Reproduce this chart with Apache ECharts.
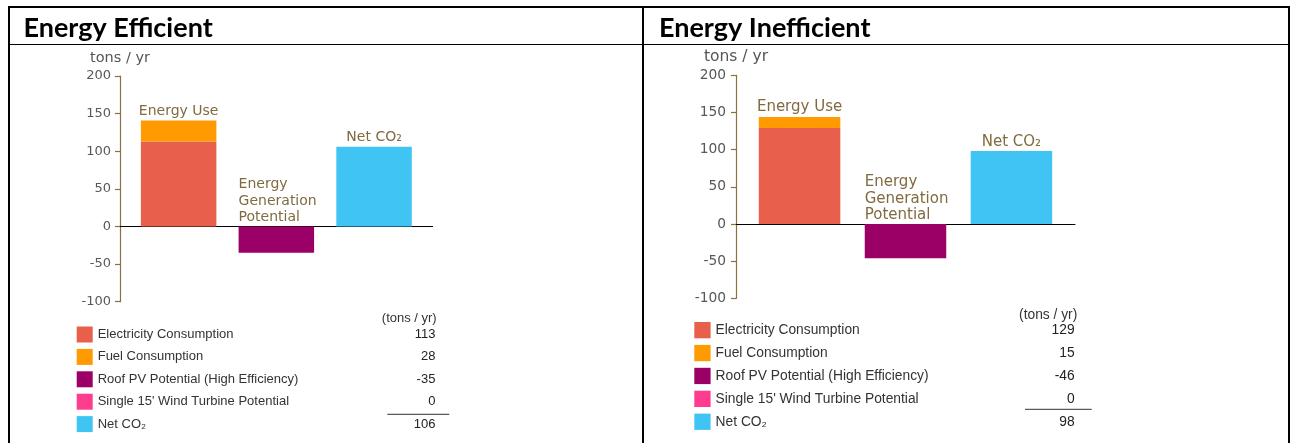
<!DOCTYPE html>
<html>
<head>
<meta charset="utf-8">
<title>CO₂ – Energy Efficient vs Energy Inefficient</title>
<script src="https://cdn.jsdelivr.net/npm/echarts@6/dist/echarts.min.js"></script>
<style>
  html, body { margin: 0; padding: 0; background: #fff; }
  #chart { width: 1292px; height: 443px; }
</style>
</head>
<body>
<div id="chart"></div>
<script>
// Panel titles and unit text
const panelTitles = ['Energy Efficient', 'Energy Inefficient'];
const unitLabel = 'tons / yr';
const tableUnitLabel = '(tons / yr)';

// Column captions drawn above the bars
const categoryLabels = ['Energy Use', 'Energy\nGeneration\nPotential', 'Net CO₂'];

// Series (one per legend row) and the column each one sits in
const seriesNames = [
  'Electricity Consumption',
  'Fuel Consumption',
  'Roof PV Potential (High Efficiency)',
  "Single 15' Wind Turbine Potential",
  'Net CO₂'
];
const seriesColumn = [0, 0, 1, 1, 2];
const seriesColors = ['#E85F4B', '#FF9A00', '#9A0066', '#FF3D8F', '#40C4F4'];

// Values in tons / yr
const efficientValues = [113, 28, -35, 0, 106];
const inefficientValues = [129, 15, -46, 0, 98];

// Value axis
const yMin = -100;
const yMax = 200;
const yStep = 50;

const panelValues = [efficientValues, inefficientValues];

// Per-panel geometry and type sizes
const panels = [
  { grid: { left: 120, top: 76, width: 312.7, height: 225.7 }, barWidth: 75.5,
    tick: 13, name: 14.5, cap: 14, capLine: 16.3, legendFont: 13, legendLeft: 76.7, legendTop: 326.5,
    rowGap: 6.4, swatch: 16, textSpan: 337.7, valueSpan: 50, lineH: 16,
    unitX: 436.7, unitY: 318.3, ruleX1: 387.3, ruleX2: 449.3, ruleY: 414.3,
    titleX: 23.5, labelMargin: 9, nameGap: 10 },
  { grid: { left: 736, top: 75.3, width: 339, height: 223 }, barWidth: 81.5,
    tick: 13.8, name: 15.5, cap: 15, capLine: 16.2, legendFont: 13.8, legendLeft: 694.3, legendTop: 322,
    rowGap: 6.6, swatch: 16.3, textSpan: 359, valueSpan: 50, lineH: 16.1,
    unitX: 1077.3, unitY: 315, ruleX1: 1025, ruleX2: 1091.7, ruleY: 409.3,
    titleX: 659, labelMargin: 10, nameGap: 10 }
];

const axisBrown = '#8C6F42';
const captionColor = '#806A40';
const captionFont = 'DejaVu Sans';
const tableFont = 'Liberation Sans';

const grids = [], xAxes = [], yAxes = [], series = [], legends = [], graphics = [];

panels.forEach(function (p, pi) {
  const values = panelValues[pi];
  grids.push(Object.assign({ containLabel: false }, p.grid));

  xAxes.push({
    gridIndex: pi, type: 'value', min: -0.6, max: 2.6,
    axisLine: { show: true, onZero: true, lineStyle: { color: '#000', width: 1 } },
    axisTick: { show: false }, axisLabel: { show: false }, splitLine: { show: false }
  });

  yAxes.push({
    gridIndex: pi, type: 'value', min: yMin, max: yMax, interval: yStep,
    name: unitLabel, nameLocation: 'end', nameGap: p.nameGap,
    nameTextStyle: { fontFamily: captionFont, fontSize: p.name, color: '#555' },
    axisLine: { show: true, onZero: false, lineStyle: { color: axisBrown, width: 1.2 } },
    axisTick: { show: true, length: 5, lineStyle: { color: axisBrown, width: 1.2 } },
    axisLabel: { fontFamily: captionFont, fontSize: p.tick, color: '#585858', margin: p.labelMargin },
    splitLine: { show: false }
  });

  seriesNames.forEach(function (name, si) {
    const col = seriesColumn[si];
    // Each row is [value, column]; the value comes first so the stack sums the bar heights
    const data = [0, 1, 2].map(function (x) { return [x === col ? values[si] : null, x]; });
    const s = {
      type: 'bar', name: name, xAxisIndex: pi, yAxisIndex: pi,
      stack: 'panel' + pi, barWidth: p.barWidth, data: data,
      encode: { x: 1, y: 0 },
      itemStyle: { color: seriesColors[si] },
      emphasis: { disabled: true }
    };
    const captionStyle = { show: true, fontFamily: captionFont, fontSize: p.cap, color: captionColor };
    if (si === 1) {
      s.label = Object.assign({}, captionStyle, { position: 'top', distance: 2,
        formatter: function (d) { return d.value[0] == null ? '' : categoryLabels[0]; } });
    } else if (si === 2) {
      s.label = Object.assign({}, captionStyle, { position: [0, -1], align: 'left', verticalAlign: 'bottom',
        lineHeight: p.capLine, formatter: function (d) { return d.value[0] == null ? '' : categoryLabels[1]; } });
    } else if (si === 4) {
      s.label = Object.assign({}, captionStyle, { position: 'top', distance: 2,
        formatter: function (d) { return d.value[0] == null ? '' : categoryLabels[2]; } });
    }
    series.push(s);
  });

  // Legend table: swatch, name and value per row
  legends.push({
    orient: 'vertical', left: p.legendLeft, top: p.legendTop, padding: 0,
    itemWidth: p.swatch, itemHeight: p.swatch, itemGap: p.rowGap, icon: 'rect',
    selectedMode: false, data: seriesNames.slice(),
    textStyle: { fontFamily: tableFont, fontSize: p.legendFont, color: '#333',
      rich: {
        n: { fontFamily: tableFont, fontSize: p.legendFont, color: '#333', width: p.textSpan - p.valueSpan, lineHeight: p.lineH },
        v: { fontFamily: tableFont, fontSize: p.legendFont, color: '#222', width: p.valueSpan, align: 'right', lineHeight: p.lineH }
      } },
    formatter: function (name) {
      const i = seriesNames.indexOf(name);
      return '{n|' + name + '}{v|' + values[i] + '}';
    }
  });

  graphics.push({
    type: 'text', silent: true,
    style: { text: tableUnitLabel, x: p.unitX, y: p.unitY, align: 'right', verticalAlign: 'middle',
      font: p.legendFont + 'px "' + tableFont + '"', fill: '#333' }
  });
  graphics.push({
    type: 'line', silent: true,
    shape: { x1: p.ruleX1, y1: p.ruleY, x2: p.ruleX2, y2: p.ruleY },
    style: { stroke: '#333', lineWidth: 1 }
  });
  graphics.push({
    type: 'text', silent: true,
    style: { text: panelTitles[pi], x: p.titleX, y: 28.3, align: 'left', verticalAlign: 'middle',
      font: 'bold 27px Lato', fill: '#000' }
  });
});

// Table frame around the two panels
const frameLines = [
  [8, 7, 1290, 7, 2],
  [9, 6, 9, 443, 2],
  [643, 6, 643, 443, 2],
  [1289, 6, 1289, 443, 2],
  [9, 44.5, 1289, 44.5, 1.2]
];
frameLines.forEach(function (l) {
  graphics.push({ type: 'line', silent: true,
    shape: { x1: l[0], y1: l[1], x2: l[2], y2: l[3] },
    style: { stroke: '#000', lineWidth: l[4] } });
});

const chart = echarts.init(document.getElementById('chart'), null, { renderer: 'canvas' });
chart.setOption({
  animation: false,
  backgroundColor: '#fff',
  grid: grids,
  xAxis: xAxes,
  yAxis: yAxes,
  legend: legends,
  series: series,
  graphic: { elements: graphics }
});
</script>
</body>
</html>
